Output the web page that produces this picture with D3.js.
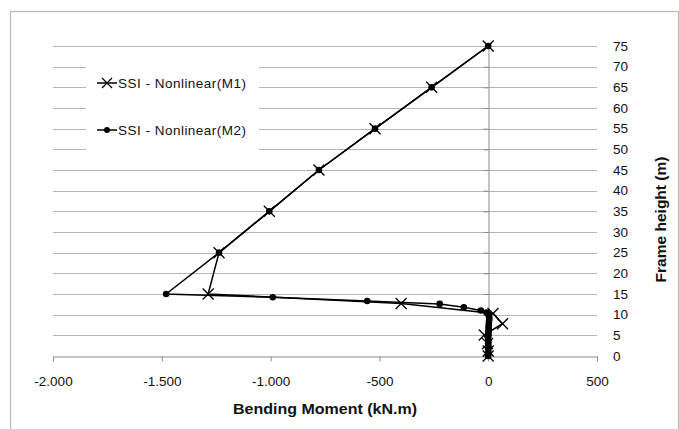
<!DOCTYPE html>
<html><head><meta charset="utf-8">
<script src="https://cdn.jsdelivr.net/npm/d3@7"></script>
<style>
body{margin:0;background:#fff;}
svg{display:block;font-family:"Liberation Sans",Arial,sans-serif;}
</style></head>
<body>
<svg id="c" width="679" height="429"></svg>
<script>
// ---- data ----
const xTicks = [-2000, -1500, -1000, -500, 0, 500];
const yTicks = [0, 5, 10, 15, 20, 25, 30, 35, 40, 45, 50, 55, 60, 65, 70, 75];
const seriesNames = ["SSI - Nonlinear(M1)", "SSI - Nonlinear(M2)"];
const heightsM1 = [75, 65, 55, 45, 35, 25, 15, 12.7, 10.3, 7.8, 5.1, 3, 1.2, 0];
const momentsM1 = [0, -260, -520, -778, -1006, -1237, -1287, -400, 22, 66, -18, -3, 0, 0];
const heightsM2 = [75, 65, 55, 45, 35, 25, 15, 14.2, 13.3, 12.6, 11.8, 11.0, 10.5, 10, 9.5, 9, 8.5, 8, 7.5, 7, 6.5, 6, 5.5, 5, 4.5, 4, 3.5, 3, 2.5, 2, 1.5, 1, 0.5, 0];
const momentsM2 = [0, -260, -520, -778, -1006, -1237, -1480, -990, -556, -223, -112, -34, -8, 2, 4, 5, 4, 3, 3, 2, 2, 1, 1, 1, 0, 0, 1, 0, 0, 1, 0, 0, 0, 0];

const svg = d3.select("#c");
const x = d3.scaleLinear().domain([-2000, 500]).range([53, 597]);
const y = d3.scaleLinear().domain([0, 75]).range([356, 46]);
const loc = d3.formatLocale({decimal: ",", thousands: ".", grouping: [3], currency: ["", ""], minus: "-"});
const fmt = loc.format(",d");

// outer border
svg.append("rect").attr("x", 10.5).attr("y", 11.5).attr("width", 668).attr("height", 430)
  .attr("fill", "none").attr("stroke", "#b8b8b8").attr("stroke-width", 1.2);

// gridlines
svg.append("g").selectAll("line").data(yTicks.filter(d => d !== 0)).join("line")
  .attr("x1", x(-2000)).attr("x2", x(500))
  .attr("y1", d => Math.round(y(d)) + 0.5).attr("y2", d => Math.round(y(d)) + 0.5)
  .attr("stroke", "#b5b5b5").attr("stroke-width", 1);

// x axis
const xa = svg.append("g").attr("transform", `translate(0,${Math.round(y(0)) + 0.5})`)
  .call(d3.axisBottom(x).tickValues(xTicks).tickFormat(fmt).tickSize(5).tickSizeOuter(0).tickPadding(15));
xa.select(".domain").attr("stroke", "#8a8a8a");
xa.selectAll(".tick line").attr("stroke", "#8a8a8a");
xa.selectAll("text").attr("font-size", 13.5).attr("fill", "#111").attr("font-family", "Liberation Sans, Arial, sans-serif");

// y axis line at 0 (with ticks to the left)
const ya = svg.append("g").attr("transform", `translate(${Math.round(x(0)) + 0.5},0)`)
  .call(d3.axisLeft(y).tickValues(yTicks).tickSize(5).tickSizeOuter(0).tickFormat(""));
ya.select(".domain").attr("stroke", "#8a8a8a");
ya.selectAll(".tick line").attr("stroke", "#8a8a8a");

// y tick labels on the right
const yl = svg.append("g").attr("transform", `translate(${x(500)},0)`)
  .call(d3.axisRight(y).tickValues(yTicks).tickSize(0).tickPadding(16));
yl.select(".domain").remove();
yl.selectAll("text").attr("font-size", 13.5).attr("fill", "#111").attr("font-family", "Liberation Sans, Arial, sans-serif");

// axis titles
svg.append("text").attr("x", 325).attr("y", 414).attr("text-anchor", "middle")
  .attr("font-size", 15.5).attr("font-weight", "bold").attr("fill", "#111")
  .attr("textLength", 184).attr("lengthAdjust", "spacingAndGlyphs").text("Bending Moment (kN.m)");
svg.append("text").attr("transform", "translate(666,219.5) rotate(-90)").attr("text-anchor", "middle")
  .attr("font-size", 15.5).attr("font-weight", "bold").attr("fill", "#111")
  .attr("textLength", 126).attr("lengthAdjust", "spacingAndGlyphs").text("Frame height (m)");

// series
const line = d3.line().x(d => x(d[0])).y(d => y(d[1]));
const d1 = momentsM1.map((m, i) => [m, heightsM1[i]]);
const d2 = momentsM2.map((m, i) => [m, heightsM2[i]]);

svg.append("path").datum(d1).attr("d", line).attr("fill", "none").attr("stroke", "#000").attr("stroke-width", 1.5);
svg.append("path").datum(d2).attr("d", line).attr("fill", "none").attr("stroke", "#000").attr("stroke-width", 1.5);

const xMark = "M-5.5,-5.5L5.5,5.5M-5.5,5.5L5.5,-5.5";
svg.append("g").selectAll("path").data(d1).join("path")
  .attr("transform", d => `translate(${x(d[0])},${y(d[1])})`)
  .attr("d", xMark).attr("stroke", "#000").attr("stroke-width", 1.3).attr("fill", "none");
svg.append("g").selectAll("circle").data(d2).join("circle")
  .attr("cx", d => x(d[0])).attr("cy", d => y(d[1])).attr("r", 3.3).attr("fill", "#000");

// legend
svg.append("rect").attr("x", 86).attr("y", 55).attr("width", 173).attr("height", 102).attr("fill", "#fff");
const lg = svg.append("g");
const ly = [83, 130];
seriesNames.forEach((name, i) => {
  lg.append("line").attr("x1", 97).attr("x2", 117).attr("y1", ly[i]).attr("y2", ly[i]).attr("stroke", "#000").attr("stroke-width", 1.5);
  if (i === 0) {
    lg.append("path").attr("transform", `translate(107,${ly[i]})`).attr("d", "M-5,-5L5,5M-5,5L5,-5").attr("stroke", "#000").attr("stroke-width", 1.3);
  } else {
    lg.append("circle").attr("cx", 107).attr("cy", ly[i]).attr("r", 3).attr("fill", "#000");
  }
  lg.append("text").attr("x", 118).attr("y", ly[i] + 5).attr("font-size", 13.5).attr("fill", "#111")
    .attr("textLength", 128).attr("lengthAdjust", "spacing").text(name);
});
</script>
</body></html>
